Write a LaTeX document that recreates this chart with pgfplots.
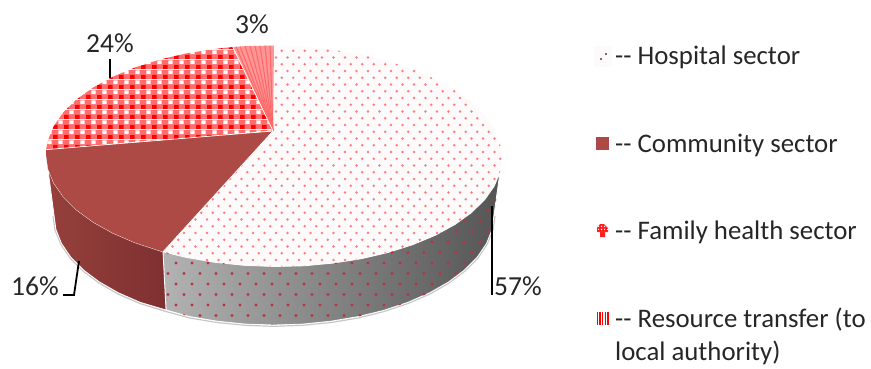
\documentclass[border=0pt]{standalone}
\usepackage{fontspec}
\setmainfont{Carlito}
\usepackage{pgfplots}
\pgfplotsset{compat=1.18}
\usetikzlibrary{patterns}

\definecolor{community}{RGB}{173,74,69}
\definecolor{hospitalbase}{RGB}{252,250,250}
\definecolor{dotpink}{RGB}{255,125,125}
\definecolor{dotdark}{RGB}{185,50,65}
\definecolor{plaidred}{RGB}{255,0,0}
\definecolor{plaidpink}{RGB}{255,110,110}
\definecolor{inktext}{RGB}{38,38,38}
\definecolor{fanbase}{RGB}{255,150,150}
\definecolor{fanline}{RGB}{255,105,105}

% staggered dots on the hospital top face
\pgfdeclarepatternformonly{hospitaldots}{\pgfqpoint{-2pt}{-2pt}}{\pgfqpoint{13.5pt}{15.5pt}}{\pgfqpoint{11.5pt}{13.5pt}}{
  \pgfpathcircle{\pgfqpoint{0pt}{0pt}}{1.3pt}
  \pgfpathcircle{\pgfqpoint{5.75pt}{6.75pt}}{1.3pt}
  \pgfusepath{fill}}
% wider staggered dots on the hospital wall
\pgfdeclarepatternformonly{walldots}{\pgfqpoint{-2pt}{-2pt}}{\pgfqpoint{18pt}{23pt}}{\pgfqpoint{16pt}{21pt}}{
  \pgfpathcircle{\pgfqpoint{0pt}{0pt}}{1.7pt}
  \pgfpathcircle{\pgfqpoint{8pt}{10.5pt}}{1.7pt}
  \pgfusepath{fill}}
% red and white plaid of the family health slice
\pgfdeclarepatterninherentlycolored{familyplaid}{\pgfpointorigin}{\pgfqpoint{10.5pt}{10pt}}{\pgfqpoint{10.5pt}{10pt}}{
  \pgfsetfillcolor{plaidpink}
  \pgfpathrectangle{\pgfpointorigin}{\pgfqpoint{10.5pt}{10pt}}\pgfusepath{fill}
  \pgfsetfillcolor{plaidred}
  \pgfpathrectangle{\pgfpointorigin}{\pgfqpoint{4.8pt}{4.6pt}}\pgfusepath{fill}
  \pgfsetfillcolor{white}
  \pgfpathrectangle{\pgfqpoint{5.6pt}{5.2pt}}{\pgfqpoint{4.4pt}{4.2pt}}\pgfusepath{fill}}
% small checks on the family health key
\pgfdeclarepatternformonly{smallchecks}{\pgfpointorigin}{\pgfqpoint{2.6pt}{2.6pt}}{\pgfqpoint{2.6pt}{2.6pt}}{
  \pgfpathrectangle{\pgfpointorigin}{\pgfqpoint{1.2pt}{1.2pt}}\pgfusepath{fill}}

\begin{document}
\begin{tikzpicture}
\path[use as bounding box] (0,0) rectangle (871pt,368pt);
\begin{axis}[
  at={(0,0)}, anchor=south west,
  scale only axis, width=871pt, height=368pt,
  xmin=0, xmax=871, ymin=0, ymax=368, y dir=reverse,
  hide axis, clip=false]

% soft edge below the disc
\addplot[draw=gray!45, line width=1.2pt] coordinates {
  (53,216) (55,230) (61,244.5) (70,258) (83,271) (99,283) (118,294) (140,303.5)
  (166,311.5) (189.8,318) (217,322.5) (245.3,325.3) (274,326.3) (302.7,325.3) (331,322.5)
  (358.2,318) (384,311.5) (408,303.5) (430,294) (449,283) (465,271) (478,258)
  (487,244.5) (493,230) (495,216)};

% hospital wall
\addplot[draw=white, line width=0.8pt, left color=black!30, middle color=black!55, right color=black!67] coordinates {
  (163,251.8) (186.7,257.5) (215,262.3) (244.2,265.3) (274,266.5) (303.8,265.8)
  (333,263.1) (361.3,258.7) (388,252.5) (412.8,244.6) (435.2,235.3) (454.9,224.5)
  (471.4,212.6) (484.6,199.8) (494.2,186.2) (500,172) (502,157.6)
  (494,215) (492.1,229.4) (486.5,243.5) (477.3,257.1) (464.5,270) (448.5,282)
  (429.6,292.8) (407.9,302.3) (384,310.3) (358.2,316.6) (330.9,321.2) (302.7,324.1)
  (274,325) (245.3,324.1) (217.1,321.2) (189.8,316.6) (166,310)} --cycle;
\addplot[draw=none, pattern=walldots, pattern color=dotdark] coordinates {
  (163,251.8) (186.7,257.5) (215,262.3) (244.2,265.3) (274,266.5) (303.8,265.8)
  (333,263.1) (361.3,258.7) (388,252.5) (412.8,244.6) (435.2,235.3) (454.9,224.5)
  (471.4,212.6) (484.6,199.8) (494.2,186.2) (500,172) (502,157.6)
  (494,215) (492.1,229.4) (486.5,243.5) (477.3,257.1) (464.5,270) (448.5,282)
  (429.6,292.8) (407.9,302.3) (384,310.3) (358.2,316.6) (330.9,321.2) (302.7,324.1)
  (274,325) (245.3,324.1) (217.1,321.2) (189.8,316.6) (166,310)} --cycle;

% community wall
\addplot[draw=white, line width=0.8pt, left color={rgb,255:red,150;green,64;blue,60}, right color={rgb,255:red,126;green,48;blue,48}] coordinates {
  (46,154.4) (48,168.8) (53.8,183.05) (63.4,196.8) (76.6,209.9) (93.1,222)
  (112.8,233) (135.2,242.7) (163,251.8)
  (166,310) (140.1,302.3) (118.4,292.8) (99.5,282) (83.5,270) (70.7,257.1)
  (61.5,243.5) (55.9,229.4) (54,215)} --cycle;

% hospital sector, top face
\addplot[draw=none, fill=hospitalbase] coordinates {
  (273,131) (163,251.8) (186.7,257.5) (215,262.3) (244.2,265.3) (274,266.5) (303.8,265.8)
  (333,263.1) (361.3,258.7) (388,252.5) (412.8,244.6) (435.2,235.3) (454.9,224.5)
  (471.4,212.6) (484.6,199.8) (494.2,186.2) (500,172) (502,157.6)
  (500,143.2) (494.2,129) (484.6,115.2) (471.4,102.1) (454.9,90) (435.2,79) (412.8,69.3)
  (388,61.1) (361.3,54.5) (333,49.7) (303.8,46.7) (274,45.5)} --cycle;
\addplot[draw=none, pattern=hospitaldots, pattern color=dotpink] coordinates {
  (273,131) (163,251.8) (186.7,257.5) (215,262.3) (244.2,265.3) (274,266.5) (303.8,265.8)
  (333,263.1) (361.3,258.7) (388,252.5) (412.8,244.6) (435.2,235.3) (454.9,224.5)
  (471.4,212.6) (484.6,199.8) (494.2,186.2) (500,172) (502,157.6)
  (500,143.2) (494.2,129) (484.6,115.2) (471.4,102.1) (454.9,90) (435.2,79) (412.8,69.3)
  (388,61.1) (361.3,54.5) (333,49.7) (303.8,46.7) (274,45.5)} --cycle;

% community sector, top face
\addplot[draw=none, fill=community] coordinates {
  (273,131) (46.2,149.6) (46,154.4) (48,168.8) (53.8,183.05) (63.4,196.8) (76.6,209.9)
  (93.1,222) (112.8,233) (135.2,242.7) (163,251.8)} --cycle;

% family health sector, top face
\addplot[draw=none, pattern=familyplaid] coordinates {
  (273,131) (232.8,47) (215,48.9) (186.7,53.3) (160,59.5) (135.2,67.4) (112.8,76.7)
  (93.1,87.5) (76.6,99.4) (63.4,112.2) (53.8,125.9) (48,140) (46.2,149.6)} --cycle;

% resource transfer, top face, with its fan of fine lines
\addplot[draw=none, fill=fanbase] coordinates {
  (273,131) (274,45.5) (244.2,46.2) (232.8,47)} --cycle;
\addplot[draw=fanline, line width=1.1pt] coordinates {(273,131) (270,45.6)};
\addplot[draw=fanline, line width=1.1pt] coordinates {(273,131) (265,45.7)};
\addplot[draw=fanline, line width=1.1pt] coordinates {(273,131) (260,45.8)};
\addplot[draw=fanline, line width=1.1pt] coordinates {(273,131) (255,45.9)};
\addplot[draw=fanline, line width=1.1pt] coordinates {(273,131) (250,46)};
\addplot[draw=fanline, line width=1.1pt] coordinates {(273,131) (245,46.2)};
\addplot[draw=fanline, line width=1.1pt] coordinates {(273,131) (240,46.5)};
\addplot[draw=fanline, line width=1.1pt] coordinates {(273,131) (236,46.8)};

% thin light seams between the slices
\addplot[draw=white, line width=0.7pt] coordinates {(232.8,47) (273,131) (46.2,149.6)};
\addplot[draw=white, line width=0.7pt] coordinates {(273,131) (163,251.8)};

% leader lines
\addplot[draw=black, line width=1.8pt] coordinates {(110,59) (110,78)};
\addplot[draw=black, line width=1.8pt] coordinates {(63,295) (74,295) (79,261)};
\addplot[draw=black, line width=1.8pt] coordinates {(492,206) (492,295)};

% key swatches
\addplot[draw=none, fill=hospitalbase] coordinates {(594,46) (612,46) (612,67) (594,67)} --cycle;
\addplot[only marks, mark=*, mark size=0.7pt, mark options={draw=none, fill=red!70}] coordinates {(606,54) (601,59)};
\addplot[draw=none, fill=community] coordinates {(596,137) (609,137) (609,150) (596,150)} --cycle;
\addplot[draw=none, fill={rgb,255:red,255;green,30;blue,30}] coordinates {(600,224) (604,224) (608,228) (608,232) (605,232) (605,237) (600,237) (600,232) (597,232) (597,228)} --cycle;
\addplot[draw=none, pattern=smallchecks, pattern color=white] coordinates {(600,224) (604,224) (608,228) (608,232) (597,232) (597,228)} --cycle;
\addplot[draw=red, line width=1.4pt] coordinates {(597.4,312) (597.4,325)};
\addplot[draw=red, line width=1.4pt] coordinates {(600,312) (600,325)};
\addplot[draw=red, line width=1.4pt] coordinates {(602.6,312) (602.6,325)};
\addplot[draw=red, line width=1.4pt] coordinates {(605.2,312) (605.2,325)};
\addplot[draw=red, line width=1.4pt] coordinates {(607.8,312) (607.8,325)};

% percentages and key texts
\node[anchor=base, inner sep=0pt, text=inktext, font=\fontsize{27.5}{33}\selectfont] at (axis cs:110,52) {24\%};
\node[anchor=base, inner sep=0pt, text=inktext, font=\fontsize{27.5}{33}\selectfont] at (axis cs:252,33) {3\%};
\node[anchor=base, inner sep=0pt, text=inktext, font=\fontsize{27.5}{33}\selectfont] at (axis cs:35,295) {16\%};
\node[anchor=base, inner sep=0pt, text=inktext, font=\fontsize{27.5}{33}\selectfont] at (axis cs:518,295) {57\%};
\node[anchor=base west, inner sep=0pt, text=inktext, font=\fontsize{26.8}{32}\selectfont] at (axis cs:615,64) {-{}- Hospital sector};
\node[anchor=base west, inner sep=0pt, text=inktext, font=\fontsize{26.8}{32}\selectfont] at (axis cs:615,152) {-{}- Community sector};
\node[anchor=base west, inner sep=0pt, text=inktext, font=\fontsize{26.8}{32}\selectfont] at (axis cs:615,239) {-{}- Family health sector};
\node[anchor=base west, inner sep=0pt, text=inktext, font=\fontsize{26.8}{32}\selectfont] at (axis cs:615,327) {-{}- Resource transfer (to};
\node[anchor=base west, inner sep=0pt, text=inktext, font=\fontsize{26.8}{32}\selectfont] at (axis cs:615,360) {local authority)};
\end{axis}
\end{tikzpicture}
\end{document}
